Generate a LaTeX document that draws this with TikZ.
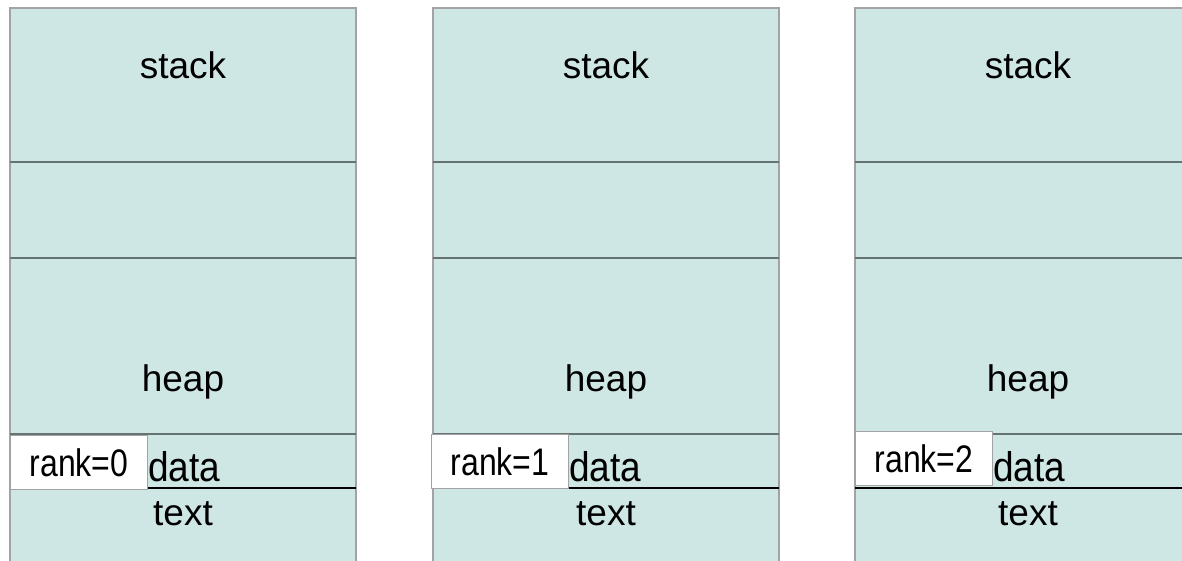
\documentclass[tikz,border=0pt]{standalone}
\usepackage{fontspec}
\usepackage{graphicx}
\setmainfont{Liberation Sans}
\usetikzlibrary{positioning}
\definecolor{memfill}{HTML}{CFE7E4}
\definecolor{sepgray}{HTML}{667373}
\definecolor{rimgray}{HTML}{A3A3A3}
\tikzset{
  seg/.style={rectangle,fill=memfill,draw=none,minimum width=346pt,inner sep=0pt,outer sep=0pt},
  sepline/.style={draw=sepgray,line width=1.6pt},
  txtline/.style={draw=black,line width=1.2pt},
  rim/.style={draw=rimgray,line width=1.2pt},
  lbl/.style={font=\fontsize{37}{44}\selectfont,inner sep=0pt,anchor=base},
  rankbox/.style={rectangle,draw=rimgray,fill=white,line width=1pt,minimum width=137pt,minimum height=54pt,
    inner sep=0pt,anchor=north west,font=\fontsize{32}{38}\selectfont}
}

\begin{document}
\begin{tikzpicture}[x=1pt,y=1pt]
\useasboundingbox (0,0) rectangle (1182,560);
\clip (0,0) rectangle (1182,560);

\foreach \x/\rx/\ry/\r in {10/10/125/0, 433/431/126/1, 855/855/129/2} {
  % memory segments, top to bottom
  \node[seg,minimum height=154pt,anchor=north west] (stack\r) at (\x,552) {};
  \node[seg,minimum height=96pt,below=0pt of stack\r] (gap\r) {};
  \node[seg,minimum height=176pt,below=0pt of gap\r] (heap\r) {};
  \node[seg,minimum height=54pt,below=0pt of heap\r] (data\r) {};
  \node[seg,minimum height=112pt,below=0pt of data\r] (txt\r) {};

  % outline and separators
  \draw[rim] (txt\r.south west) |- (stack\r.north east) -- (txt\r.south east);
  \draw[sepline] (stack\r.south west) -- (stack\r.south east);
  \draw[sepline] (gap\r.south west) -- (gap\r.south east);
  \draw[sepline] (heap\r.south west) -- (heap\r.south east);
  \draw[txtline] (data\r.south west) -- (data\r.south east);

  % process tag
  \node[rankbox] (rank\r) at (\rx,\ry) {\scalebox{1}[1.2]{rank=\r}};

  % labels
  \node[lbl] (stackL\r) at (\x+173,481) {stack};
  \node[lbl] (heapL\r) at (\x+173,169) {heap};
  \node[lbl,anchor=base west] (dataL\r) at (\rx+138,79) {\scalebox{1}[1.12]{data}};
  \node[lbl] (txtL\r) at (\x+173,35) {text};
}
\end{tikzpicture}
\end{document}
